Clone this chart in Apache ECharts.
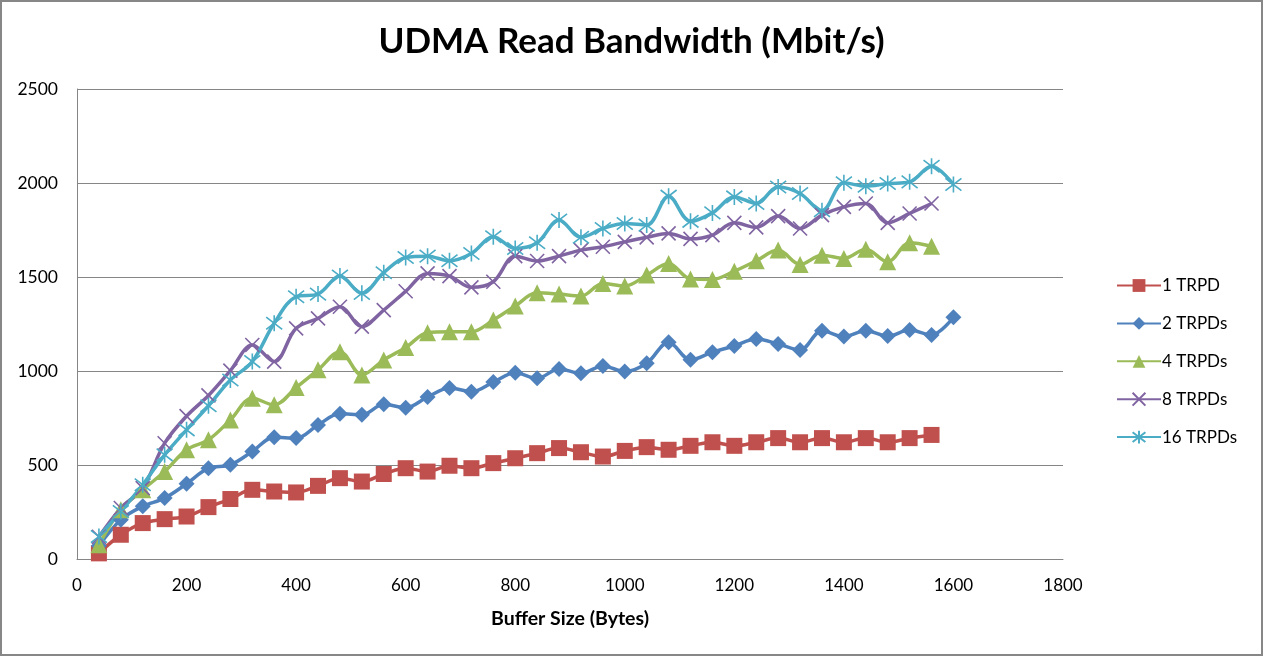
<!DOCTYPE html>
<html>
<head>
<meta charset="utf-8">
<script src="https://cdn.jsdelivr.net/npm/echarts@6/dist/echarts.min.js"></script>
<style>html,body{margin:0;padding:0;background:#fff}#c{width:1263px;height:656px}</style>
</head>
<body>
<div id="c"></div>
<script>
const bufferSizes = [40,80,120,160,200,240,280,320,360,400,440,480,520,560,600,640,680,720,760,800,840,880,920,960,1000,1040,1080,1120,1160,1200,1240,1280,1320,1360,1400,1440,1480,1520,1560,1600];
const trpd1  = [30,129,191,212,226,276,319,368,359,354,389,430,412,452,483,465,496,483,510,536,563,590,568,545,575,595,581,602,621,602,621,643,621,643,621,643,621,643,660];
const trpd2  = [70,209,280,324,400,483,501,572,648,643,713,772,767,823,805,862,910,890,941,991,961,1011,988,1027,997,1041,1153,1060,1100,1133,1170,1144,1112,1214,1183,1214,1186,1218,1192,1286];
const trpd4  = [76,262,368,465,581,634,740,855,820,912,1006,1103,979,1059,1125,1204,1209,1209,1271,1346,1416,1409,1399,1466,1452,1510,1572,1490,1487,1531,1586,1643,1567,1616,1599,1647,1581,1682,1664];
const trpd8  = [118,271,377,616,760,870,1002,1138,1050,1227,1280,1342,1236,1324,1424,1519,1505,1445,1475,1611,1585,1611,1643,1661,1687,1711,1732,1703,1723,1788,1764,1824,1758,1829,1873,1891,1788,1838,1891];
const trpd16 = [120,253,395,554,687,815,952,1050,1254,1395,1409,1505,1413,1523,1604,1611,1586,1625,1714,1652,1682,1803,1711,1758,1785,1776,1930,1796,1841,1926,1891,1979,1944,1852,2001,1983,1997,2006,2089,1992];
const seriesNames = ['1 TRPD','2 TRPDs','4 TRPDs','8 TRPDs','16 TRPDs'];
const xTicks = [0,200,400,600,800,1000,1200,1400,1600,1800];
const yTicks = [0,500,1000,1500,2000,2500];

const FONT = 'Lato, "Open Sans", sans-serif';
const pair = arr => arr.map((v,i)=>[bufferSizes[i], v]);
const colors = ['#C0504D','#4F81BD','#9BBB59','#8064A2','#4BACC6'];
const symbols = ['rect','diamond','triangle','path://M0,0L10,10M10,0L0,10','path://M0,0L10,10M10,0L0,10M5,-1.5L5,11.5'];
const sizes = [16,16,17,14,16];
const datas = [trpd1,trpd2,trpd4,trpd8,trpd16];

const series = datas.map((d,k)=>({
  name: seriesNames[k],
  type: 'line',
  data: pair(d),
  smooth: 0.35,
  symbol: symbols[k],
  symbolSize: sizes[k],
  showAllSymbol: true,
  lineStyle: {color: colors[k], width: 3.5},
  itemStyle: {color: colors[k], borderColor: colors[k], borderWidth: k>=3 ? 1.6 : 0},
  emphasis: {disabled: true}
}));

const chart = echarts.init(document.getElementById('c'), null, {renderer:'canvas'});
chart.setOption({
  animation: false,
  backgroundColor: '#fff',
  color: colors,
  title: {
    text: 'UDMA Read Bandwidth (Mbit/s)',
    left: 'center', top: 19,
    textStyle: {fontFamily: FONT, fontSize: 35, fontWeight: 'bold', color: '#000'}
  },
  grid: {left: 77, right: 200, top: 89, bottom: 97, containLabel: false},
  xAxis: {
    type: 'value', min: xTicks[0], max: xTicks[xTicks.length-1], interval: 200,
    name: 'Buffer Size (Bytes)', nameLocation: 'middle', nameGap: 50,
    nameTextStyle: {fontFamily: FONT, fontSize: 19.5, fontWeight: 'bold', color: '#000'},
    axisLine: {show: true, lineStyle: {color: '#868686', width: 1}},
    axisTick: {show: false},
    axisLabel: {fontFamily: FONT, fontSize: 17, color: '#000', margin: 18, formatter: v => String(v)},
    splitLine: {show: false}
  },
  yAxis: {
    type: 'value', min: yTicks[0], max: yTicks[yTicks.length-1], interval: 500,
    axisLine: {show: true, lineStyle: {color: '#868686', width: 1}},
    axisTick: {show: false},
    axisLabel: {fontFamily: FONT, fontSize: 17.5, color: '#000', margin: 19, formatter: v => String(v)},
    splitLine: {show: true, lineStyle: {color: '#868686', width: 1}}
  },
  legend: {
    orient: 'vertical', left: 1116, top: 277, padding: 0,
    itemWidth: 44, itemHeight: 16, itemGap: 20.9,
    textStyle: {fontFamily: FONT, fontSize: 17, color: '#000', padding: [0,0,0,-4]},
    data: seriesNames
  },
  graphic: [{
    type: 'rect', silent: true, z: 100,
    shape: {x: 1, y: 1, width: 1261, height: 654},
    style: {fill: 'none', stroke: '#878787', lineWidth: 2}
  }],
  series: series
});
</script>
</body>
</html>
